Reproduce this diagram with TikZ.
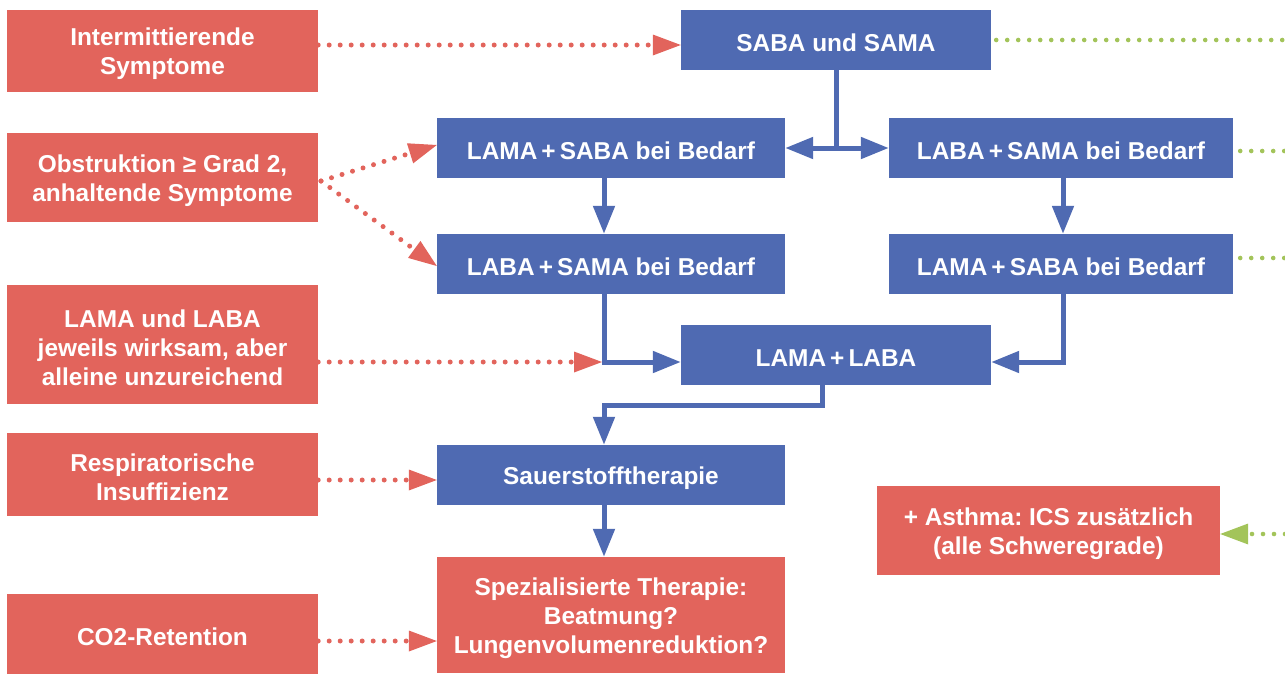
\documentclass[tikz,border=0pt]{standalone}
\usepackage{fontspec}
\setmainfont{Liberation Sans}
\usetikzlibrary{arrows.meta}
\definecolor{cblue}{HTML}{4F6AB2}
\definecolor{cred}{HTML}{E2645C}
\definecolor{cgreen}{HTML}{A3C45A}
\frenchspacing
\tikzset{
  boxtext/.style={inner sep=0pt, align=center, text=white,
    font=\fontsize{24.4}{29}\selectfont\bfseries},
  bluebox/.style={rectangle, inner sep=0pt, fill=cblue},
  redbox/.style={rectangle, inner sep=0pt, fill=cred},
  tip/.style={-{Triangle[length=28pt,width=21pt]}},
  flow/.style={draw=cblue, line width=5pt},
  flowarrow/.style={flow, tip},
  reddots/.style={draw=cred, line width=5pt, line cap=round, dash pattern=on 0pt off 11pt,
    -{Triangle[length=28pt,width=21pt,fill=cred,line width=0pt]}},
  greendots/.style={draw=cgreen, line width=4.6pt, line cap=round, dash pattern=on 0pt off 11pt},
  greenarrow/.style={greendots, -{Triangle[length=28pt,width=21pt,fill=cgreen,line width=0pt]}}
}
% #1 style, #2 name, #3 centre, #4 width, #5 height, #6 text
\newcommand\mkbox[6]{%
  \node[#1, minimum width=#4, minimum height=#5] (#2) at (#3) {};
  \node[boxtext] (#2t) at ([yshift=-3pt]#2.center) {#6};}
\begin{document}
\begin{tikzpicture}[x=1pt,y=-1pt]
\useasboundingbox (0,0) rectangle (1285,673);
% left red boxes
\mkbox{redbox}{i1}{162.5,51}{311pt}{82pt}{Intermittierende\\Symptome}
\mkbox{redbox}{o1}{162.5,177.5}{311pt}{89pt}{Obstruktion ≥ Grad 2,\\anhaltende Symptome}
\mkbox{redbox}{l1}{162.5,344.5}{311pt}{119pt}{LAMA und LABA\\jeweils wirksam, aber\\alleine unzureichend}
\mkbox{redbox}{r1}{162.5,474.5}{311pt}{83pt}{Respiratorische\\Insuffizienz}
\mkbox{redbox}{c1}{162.5,634}{311pt}{80pt}{CO2-Retention}
% blue boxes
\mkbox{bluebox}{saba}{836,40}{310pt}{60pt}{SABA und SAMA}
\mkbox{bluebox}{b1}{611,148}{348pt}{60pt}{LAMA\,+\,SABA bei Bedarf}
\mkbox{bluebox}{b2}{1061,148}{344pt}{60pt}{LABA\,+\,SAMA bei Bedarf}
\mkbox{bluebox}{b3}{611,264}{348pt}{60pt}{LABA\,+\,SAMA bei Bedarf}
\mkbox{bluebox}{b4}{1061,264}{344pt}{60pt}{LAMA\,+\,SABA bei Bedarf}
\mkbox{bluebox}{ll}{836,355}{310pt}{60pt}{LAMA\,+\,LABA}
\mkbox{bluebox}{sau}{611,475}{348pt}{60pt}{Sauerstofftherapie}
\mkbox{redbox}{spez}{611,615}{348pt}{116pt}{Spezialisierte Therapie:\\Beatmung?\\Lungenvolumenreduktion?}
\mkbox{redbox}{asth}{1048.5,530.5}{343pt}{89pt}{+ Asthma: ICS zusätzlich\\(alle Schweregrade)}
% helper coordinates
\coordinate (xl) at (604,0);
\coordinate (xr) at (1063,0);
\coordinate (xs) at (836,0);
\coordinate (xm) at (822,0);
\coordinate (yl) at (0,362);
\coordinate (ym) at (0,405);
\coordinate (yi) at (0,45);
\coordinate (ob) at (321,181);
\coordinate (g1) at (1285,40);
\coordinate (g2) at (1285,151);
\coordinate (g3) at (1285,258);
\coordinate (g4) at (1285,534);
\coordinate (rl) at (602,362);
% blue connectors
\draw[flow] (saba.south -| xs) -- (b1.east -| xs);
\draw[flow, {Triangle[length=28pt,width=21pt]}-{Triangle[length=28pt,width=21pt]}] (b1.east) -- (b2.west);
\draw[flowarrow] (b1.south -| xl) -- (b3.north -| xl);
\draw[flowarrow] (b2.south -| xr) -- (b4.north -| xr);
\draw[flowarrow] (b3.south -| xl) |- (ll.west |- yl);
\draw[flowarrow] (b4.south -| xr) |- (ll.east |- yl);
\draw[flowarrow] (ll.south -| xm) |- (xl |- ym) -- (sau.north -| xl);
\draw[flowarrow] (sau.south -| xl) -- (spez.north -| xl);
% red dotted connectors
\draw[reddots] (i1.east |- yi) -- (saba.west |- yi);
\draw[reddots] (ob) -- (b1.west |- 0,145);
\draw[reddots] (ob) -- (b3.west |- 0,266);
\draw[reddots] (l1.east |- yl) -- (rl);
\draw[reddots] (r1.east |- 0,480) -- (sau.west |- 0,480);
\draw[reddots] (c1.east |- 0,641) -- (spez.west |- 0,641);
% green dotted connectors
\draw[greendots] ([xshift=5pt]saba.east) -- (g1);
\draw[greendots] (b2.east |- g2) ++(7,0) -- (g2);
\draw[greendots] (b4.east |- g3) ++(7,0) -- (g3);
\draw[greenarrow] (g4) -- (asth.east |- g4);
\end{tikzpicture}
\end{document}
